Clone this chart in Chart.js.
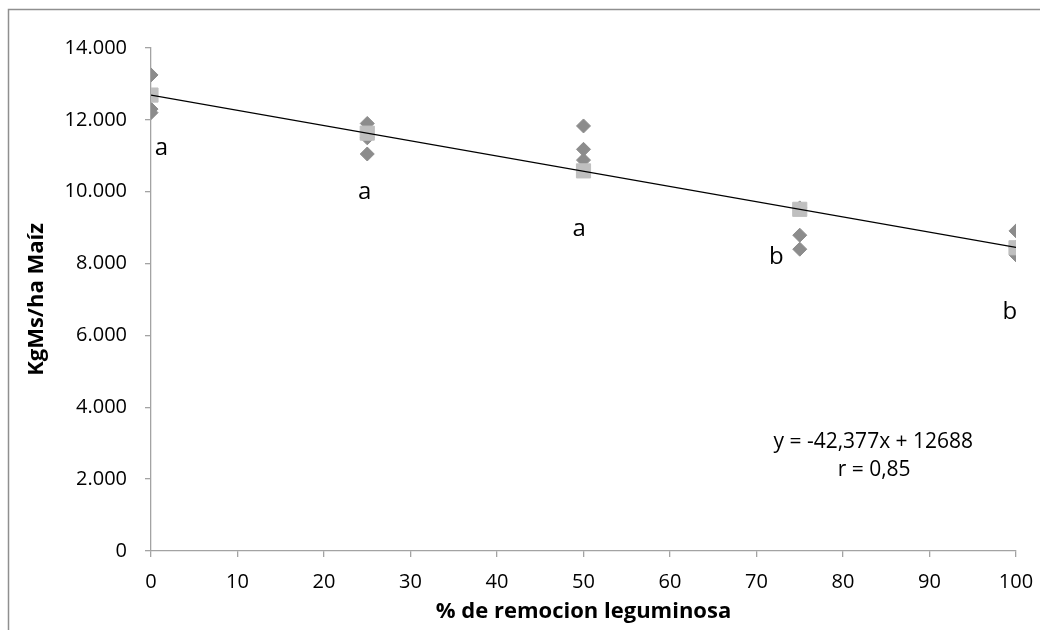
<!DOCTYPE html>
<html>
<head>
<meta charset="utf-8">
<script src="https://cdn.jsdelivr.net/npm/chart.js@4/dist/chart.umd.min.js"></script>
<style>
  html, body { margin: 0; padding: 0; background: #fff; }
  #wrap { width: 1040px; height: 630px; position: relative; }
</style>
</head>
<body>
<div id="wrap"><canvas id="chart" width="1040" height="630"></canvas></div>
<script>
// individual observations (diamonds)
const obsX = [0, 0, 0, 25, 25, 25, 50, 50, 50, 75, 75, 75, 100, 100, 100];
const obsY = [13250, 12300, 12200, 11900, 11500, 11050, 11830, 11180, 10880, 9550, 8790, 8400, 8910, 8450, 8240];

// treatment means (squares)
const meanX = [0, 25, 50, 75, 100];
const meanY = [12690, 11630, 10580, 9510, 8440];

// linear trend y = -42,377x + 12688
const trendX = [0, 100];
const trendY = [12688, 8450];

// significance letters
const letterText = ['a', 'a', 'a', 'b', 'b'];
const letterX = [1.2, 24.7, 49.5, 72.3, 99.3];
const letterY = [11210, 10000, 8950, 8190, 6660];

// equation box
const eqText = ['y = -42,377x + 12688', 'r = 0,85'];
const eqX = [83.5, 83.6];
const eqY = [3034, 2254];

const xTitle = '% de remocion leguminosa';
const yTitle = 'KgMs/ha Maíz';

const FONT = "'Open Sans', 'DejaVu Sans', sans-serif";
const AXIS_GREY = '#a3a3a3';

const toPoints = (xs, ys) => xs.map((x, i) => ({ x: x, y: ys[i] }));

const fmtThousands = v => {
  if (v === 0) return '0';
  return String(v).replace(/\B(?=(\d{3})+(?!\d))/g, '.');
};

// outer chart frame, only top and left edges are in view
const framePlugin = {
  id: 'frame',
  beforeDraw(chart) {
    const ctx = chart.ctx;
    ctx.save();
    ctx.strokeStyle = '#8f8f8f';
    ctx.lineWidth = 1.5;
    ctx.beginPath();
    ctx.moveTo(8.5, chart.height);
    ctx.lineTo(8.5, 9.5);
    ctx.lineTo(chart.width, 9.5);
    ctx.stroke();
    ctx.restore();
  }
};

// letters and equation text placed through the scales
const labelsPlugin = {
  id: 'labels',
  afterDatasetsDraw(chart) {
    const { ctx, scales } = chart;
    ctx.save();
    ctx.fillStyle = '#000';
    ctx.textAlign = 'center';
    ctx.textBaseline = 'middle';
    ctx.font = '24px ' + FONT;
    letterText.forEach((t, i) => {
      ctx.fillText(t, scales.x.getPixelForValue(letterX[i]), scales.y.getPixelForValue(letterY[i]));
    });
    ctx.font = '21px ' + FONT;
    eqText.forEach((t, i) => {
      ctx.fillText(t, scales.x.getPixelForValue(eqX[i]), scales.y.getPixelForValue(eqY[i]));
    });
    ctx.restore();
  }
};

new Chart(document.getElementById('chart').getContext('2d'), {
  type: 'scatter',
  data: {
    datasets: [
      {
        type: 'line',
        label: 'Lineal',
        data: toPoints(trendX, trendY),
        borderColor: '#000',
        borderWidth: 1.3,
        pointRadius: 0,
        fill: false,
        order: 0
      },
      {
        label: 'Media',
        data: toPoints(meanX, meanY),
        pointStyle: 'rect',
        pointRadius: 10,
        backgroundColor: '#bfbfbf',
        borderColor: '#bfbfbf',
        borderWidth: 1,
        order: 1
      },
      {
        label: 'Observado',
        data: toPoints(obsX, obsY),
        pointStyle: 'rectRot',
        pointRadius: 7,
        backgroundColor: '#8c8c8c',
        borderColor: '#8c8c8c',
        borderWidth: 1,
        order: 2
      }
    ]
  },
  options: {
    responsive: false,
    animation: false,
    events: [],
    layout: { padding: { top: 48, right: 24, left: 0, bottom: 0 } },
    plugins: {
      legend: { display: false },
      tooltip: { enabled: false }
    },
    scales: {
      x: {
        type: 'linear',
        min: 0,
        max: 100,
        ticks: {
          stepSize: 10,
          color: '#000',
          padding: 13,
          font: { family: FONT, size: 20 },
          maxRotation: 0
        },
        grid: {
          drawOnChartArea: false,
          drawTicks: true,
          tickLength: 6,
          color: AXIS_GREY,
          lineWidth: 1.3
        },
        border: { color: AXIS_GREY, width: 1.3 },
        title: {
          display: true,
          text: xTitle,
          color: '#000',
          font: { family: FONT, size: 22, weight: 'bold' },
          padding: { top: 0, bottom: 5 }
        },
        afterFit(scale) {
          scale.height = 79;
          scale.paddingLeft = 0;
          scale.paddingRight = 0;
        }
      },
      y: {
        type: 'linear',
        min: 0,
        max: 14000,
        ticks: {
          stepSize: 2000,
          color: '#000',
          padding: 18,
          font: { family: FONT, size: 20 },
          callback: v => fmtThousands(v)
        },
        grid: {
          drawOnChartArea: false,
          drawTicks: true,
          tickLength: 6,
          color: AXIS_GREY,
          lineWidth: 1.3
        },
        border: { color: AXIS_GREY, width: 1.3 },
        title: {
          display: true,
          text: yTitle,
          color: '#000',
          font: { family: FONT, size: 22, weight: 'bold' },
          padding: { top: 24, bottom: 0 }
        },
        afterFit(scale) {
          scale.width = 151;
          scale.paddingTop = 0;
          scale.paddingBottom = 0;
        }
      }
    }
  },
  plugins: [framePlugin, labelsPlugin]
});
</script>
</body>
</html>
